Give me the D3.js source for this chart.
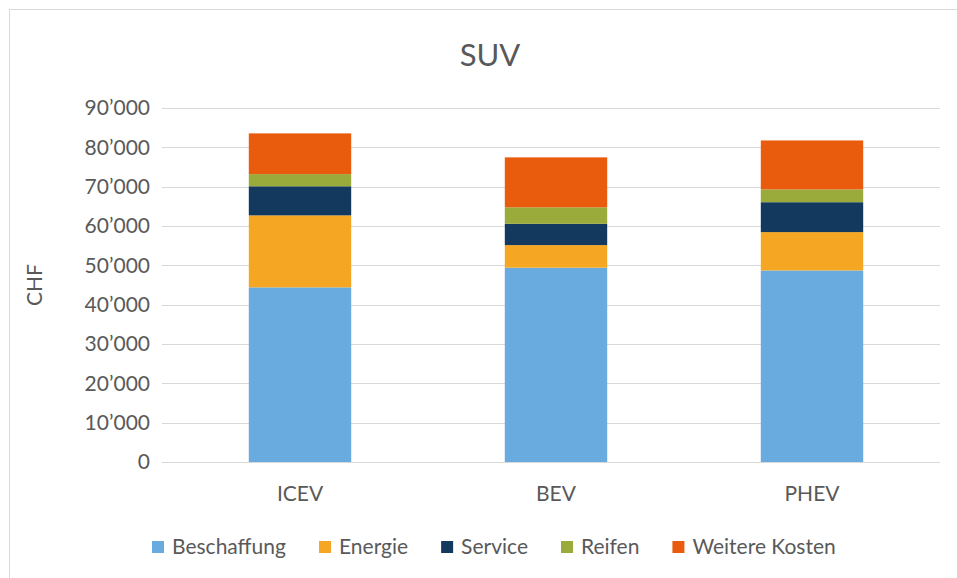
<!DOCTYPE html>
<meta charset="utf-8">
<style>
    body { margin: 0; background: #fff; }
    text { font-family: Lato, "Open Sans", sans-serif; fill: #595959; }
    .grid line { stroke: #d9d9d9; stroke-width: 1px; }
</style>
<svg width="957" height="578"></svg>
<script src="https://d3js.org/d3.v7.min.js"></script>
<script>
    const categories = ["ICEV", "BEV", "PHEV"];
    const series = ["Beschaffung", "Energie", "Service", "Reifen", "Weitere Kosten"];
    const colors = ["#69abdf", "#f5a623", "#133a5e", "#9aab3c", "#e95c0e"];
    const beschaffung = [44400, 49400, 48700];
    const energie = [18300, 5750, 9750];
    const service = [7400, 5400, 7600];
    const reifen = [3100, 4200, 3250];
    const weitere = [10350, 12700, 12450];
    const yTicks = [0, 10000, 20000, 30000, 40000, 50000, 60000, 70000, 80000, 90000];

    const width = 957, height = 578;
    const margin = { left: 172, right: 17, top: 108, bottom: 116 };

    const rows = categories.map((c, i) => ({
        cat: c,
        "Beschaffung": beschaffung[i],
        "Energie": energie[i],
        "Service": service[i],
        "Reifen": reifen[i],
        "Weitere Kosten": weitere[i]
    }));
    const stacked = d3.stack().keys(series)(rows);

    const svg = d3.select("svg");

    // chart border (only top and left visible)
    svg.append("line").attr("x1", 9).attr("y1", 9.5).attr("x2", 957).attr("y2", 9.5)
        .attr("stroke", "#d9d9d9");
    svg.append("line").attr("x1", 9.5).attr("y1", 9).attr("x2", 9.5).attr("y2", 578)
        .attr("stroke", "#d9d9d9");

    const x = d3.scaleBand()
        .domain(categories)
        .range([margin.left, width - margin.right])
        .paddingInner(0.6)
        .paddingOuter(0.3);

    const y = d3.scaleLinear()
        .domain([0, 90000])
        .range([height - margin.bottom, margin.top]);

    const fmt = v => v === 0 ? "0" : d3.format(",")(v).replace(/,/g, "\u2019");

    const grid = svg.append("g").attr("class", "grid");
    grid.selectAll("line")
        .data(yTicks)
        .enter().append("line")
        .attr("x1", margin.left - 10)
        .attr("x2", width - margin.right)
        .attr("y1", d => Math.round(y(d)) + 0.5)
        .attr("y2", d => Math.round(y(d)) + 0.5);

    const yAxis = d3.axisLeft(y).tickValues(yTicks).tickFormat(fmt).tickSize(0).tickPadding(22);
    const yg = svg.append("g").attr("transform", `translate(${margin.left},0)`).call(yAxis);
    yg.select(".domain").remove();
    yg.selectAll("text").style("font-size", "21px").attr("fill", "#595959");

    svg.append("g").selectAll("g")
        .data(stacked)
        .enter().append("g")
        .attr("fill", (d, i) => colors[i])
        .selectAll("rect")
        .data(d => d)
        .enter().append("rect")
        .attr("x", d => x(d.data.cat))
        .attr("width", x.bandwidth())
        .attr("y", d => y(d[1]))
        .attr("height", d => y(d[0]) - y(d[1]));

    const xAxis = d3.axisBottom(x).tickSize(0).tickPadding(24);
    const xg = svg.append("g").attr("transform", `translate(0,${height - margin.bottom})`).call(xAxis);
    xg.select(".domain").remove();
    xg.selectAll("text").style("font-size", "21px").attr("fill", "#595959");

    svg.append("text")
        .attr("x", 490).attr("y", 66)
        .attr("text-anchor", "middle")
        .style("font-size", "31px")
        .text("SUV");

    svg.append("text")
        .attr("transform", "translate(42,285) rotate(-90)")
        .attr("text-anchor", "middle")
        .style("font-size", "21px")
        .text("CHF");

    // legend
    const legend = svg.append("g");
    const items = legend.selectAll("g")
        .data(series)
        .enter().append("g");
    items.append("rect")
        .attr("width", 12).attr("height", 12)
        .attr("y", -13)
        .attr("fill", (d, i) => colors[i]);
    items.append("text")
        .attr("x", 20).attr("y", 0)
        .style("font-size", "21px")
        .text(d => d);
    const gap = 33;
    let lx = 0;
    items.each(function () {
        const w = this.getBBox().width;
        d3.select(this).attr("transform", `translate(${lx},0)`);
        lx += w + gap;
    });
    const total = lx - gap;
    legend.attr("transform", `translate(${Math.round(494 - total / 2)},554)`);
</script>
